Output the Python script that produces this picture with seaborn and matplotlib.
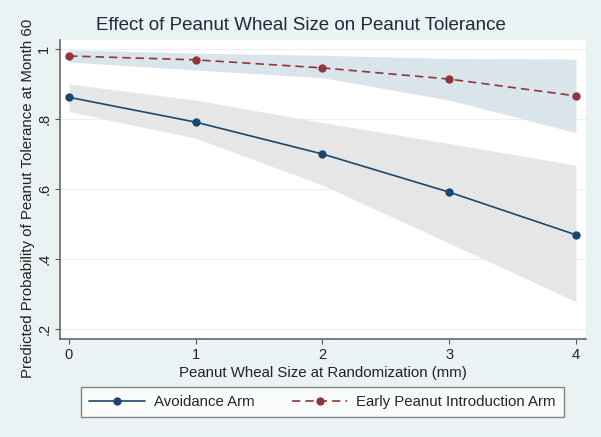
import numpy as np
import pandas as pd
import matplotlib
matplotlib.use("Agg")
import matplotlib.pyplot as plt
import seaborn as sns
from matplotlib.lines import Line2D

# ---- data ----
wheal_mm = [0, 1, 2, 3, 4]
avoid_pred = [0.862, 0.791, 0.700, 0.591, 0.469]
avoid_lo = [0.821, 0.745, 0.611, 0.445, 0.278]
avoid_hi = [0.900, 0.854, 0.790, 0.730, 0.668]
early_pred = [0.980, 0.969, 0.946, 0.914, 0.866]
early_lo = [0.963, 0.940, 0.918, 0.854, 0.761]
early_hi = [0.998, 0.988, 0.982, 0.973, 0.971]
series_names = ["Avoidance Arm", "Early Peanut Introduction Arm"]
x_ticks = [0, 1, 2, 3, 4]
y_ticks = [0.2, 0.4, 0.6, 0.8, 1.0]
y_ticklabels = [".2", ".4", ".6", ".8", "1"]

BG = "#EAF2F3"
NAVY = "#1A476F"
MAROON = "#90353B"

sns.set_theme(style="white")
plt.rcParams["font.family"] = ["Liberation Sans", "DejaVu Sans"]

df = pd.DataFrame({
    "x": wheal_mm * 2,
    "y": avoid_pred + early_pred,
    "arm": [series_names[0]] * 5 + [series_names[1]] * 5,
})

fig = plt.figure(figsize=(6.01, 4.37), dpi=100, facecolor=BG)
ax = fig.add_axes([60 / 601, 1 - 339 / 437, 526 / 601, 299 / 437])
ax.set_facecolor("white")

ax.fill_between(wheal_mm, avoid_lo, avoid_hi, color="#E6E6E6", lw=0, zorder=1)
ax.fill_between(wheal_mm, early_lo, early_hi, color="#D9E4EB", lw=0, zorder=1)

sns.lineplot(data=df, x="x", y="y", hue="arm", style="arm",
             palette={series_names[0]: NAVY, series_names[1]: MAROON},
             dashes={series_names[0]: "", series_names[1]: (5, 3)},
             markers={series_names[0]: "o", series_names[1]: "o"},
             markersize=6, markeredgewidth=0, linewidth=1.2,
             legend=False, ax=ax, zorder=3)

ax.set_xlim(-0.071, 4.079)
ax.set_ylim(0.1714, 1.0257)
ax.set_xticks(x_ticks)
ax.set_xticklabels([str(t) for t in x_ticks], fontsize=10.5, color="#222222")
ax.set_yticks(y_ticks)
ax.set_yticklabels(y_ticklabels, fontsize=10.5, color="#222222", rotation=90, va="center")
ax.tick_params(axis="both", which="both", direction="out", length=3.8, width=0.8,
               color="#555555", bottom=True, left=True, pad=2.5)
for yv in y_ticks:
    ax.axhline(yv, color="#EEEEEE", lw=0.8, zorder=0)

for s in ["top", "right"]:
    ax.spines[s].set_visible(False)
for s in ["left", "bottom"]:
    ax.spines[s].set_color("#666666")
    ax.spines[s].set_linewidth(1.2)

ax.set_xlabel("Peanut Wheal Size at Randomization (mm)", fontsize=10.8, color="#222222", labelpad=3)
ax.set_ylabel("Predicted Probability of Peanut Tolerance at Month 60", fontsize=10.8,
              color="#222222")
ax.yaxis.set_label_coords(-0.047, 0.47)

fig.text(0.50, 1 - 26 / 437, "Effect of Peanut Wheal Size on Peanut Tolerance",
         ha="center", va="center", fontsize=13.5, color="#1E2A3A")

handles = [
    Line2D([0], [0], color=NAVY, lw=1.2, marker="o", markersize=6, markeredgewidth=0),
    Line2D([0], [0], color=MAROON, lw=1.2, ls=(0, (5, 3)), marker="o", markersize=6, markeredgewidth=0),
]
leg = fig.legend(handles, series_names, ncol=2, loc="center",
                 bbox_to_anchor=(322.5 / 601, 1 - 402 / 437), fontsize=10.8,
                 frameon=True, fancybox=False, handlelength=3.7, columnspacing=2.5,
                 borderpad=0.55, handletextpad=0.6, borderaxespad=0)
leg.get_frame().set_edgecolor("#666666")
leg.get_frame().set_linewidth(1.0)
leg.get_frame().set_facecolor("white")

fig.savefig("out.png", dpi=100, facecolor=BG)
